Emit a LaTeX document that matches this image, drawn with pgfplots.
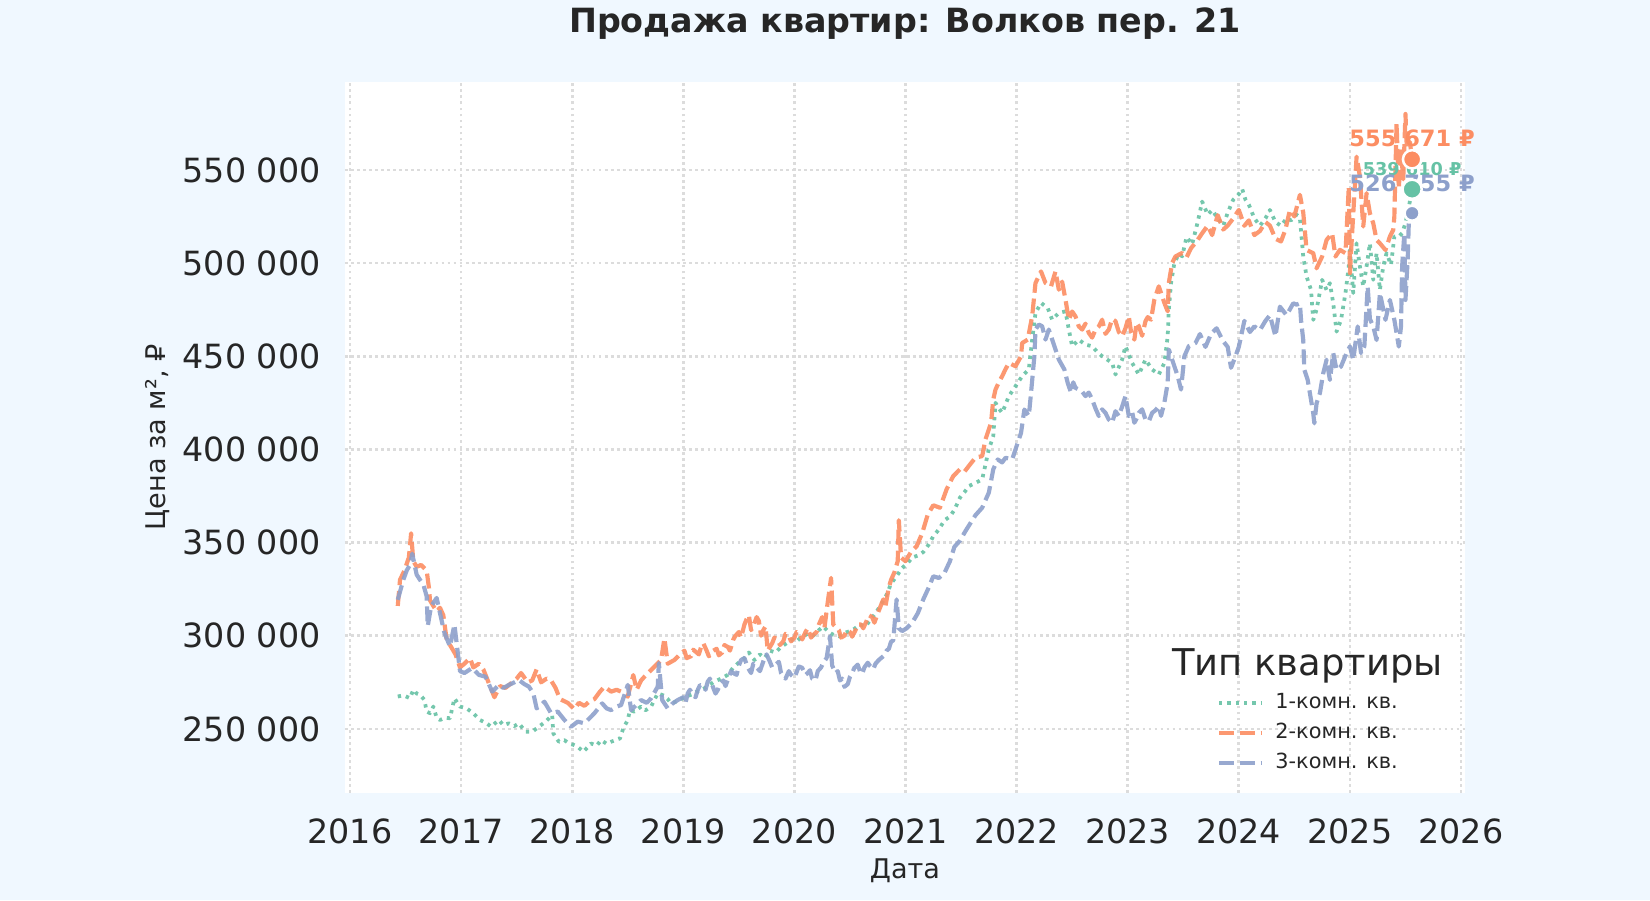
\documentclass[border=0pt]{standalone}
\usepackage{fontspec}
\setmainfont{DejaVu Sans}
\usepackage{pgfplots}
\usepackage{pgfplotstable}
\pgfplotsset{compat=1.18}
\definecolor{bgc}{HTML}{F0F8FF}
\definecolor{c1}{HTML}{66C2A5}
\definecolor{c2}{HTML}{FC8D62}
\definecolor{c3}{HTML}{8DA0CB}
\definecolor{txt}{HTML}{262626}
\definecolor{gridc}{HTML}{DCDCDC}

\pgfplotstableread{
x y
2016.43 267400
2016.48 268000
2016.54 266500
2016.57 271000
2016.60 269000
2016.63 268300
2016.67 265600
2016.69 259300
2016.72 258400
2016.75 262000
2016.78 256000
2016.81 254800
2016.86 256000
2016.90 255700
2016.94 266400
2016.99 262000
2017.05 261000
2017.11 258400
2017.17 254800
2017.23 253000
2017.27 251200
2017.34 254800
2017.38 252000
2017.43 253000
2017.48 251500
2017.52 253000
2017.58 248500
2017.64 248500
2017.70 251200
2017.76 253900
2017.82 257500
2017.83 247600
2017.88 243100
2017.93 244000
2017.97 242200
2018.01 241500
2018.05 240400
2018.10 237700
2018.17 242200
2018.22 241000
2018.26 244000
2018.31 242000
2018.35 243100
2018.43 244900
2018.46 250300
2018.50 254800
2018.52 260100
2018.56 259300
2018.62 262000
2018.66 260000
2018.71 262000
2018.77 269100
2018.82 268000
2018.86 266000
2018.89 263700
2018.95 265000
2019.02 267300
2019.08 268500
2019.12 270000
2019.17 271000
2019.22 273000
2019.28 275400
2019.34 277000
2019.40 279000
2019.45 283000
2019.50 285600
2019.55 288000
2019.59 291000
2019.64 287000
2019.69 290000
2019.73 288000
2019.78 292000
2019.83 291000
2019.88 294000
2019.93 296000
2019.98 298000
2020.02 297000
2020.07 299700
2020.12 301000
2020.17 300000
2020.22 303000
2020.26 305000
2020.31 302000
2020.35 300500
2020.40 299700
2020.45 301500
2020.50 302500
2020.54 303700
2020.59 306000
2020.64 305000
2020.68 308200
2020.73 312000
2020.78 316700
2020.83 322000
2020.87 328000
2020.92 332000
2020.97 336400
2021.02 339000
2021.06 342000
2021.11 343000
2021.16 344900
2021.21 349000
2021.25 353400
2021.30 357000
2021.35 361900
2021.40 364000
2021.44 367500
2021.49 374100
2021.53 377000
2021.57 380300
2021.63 382000
2021.69 383900
2021.75 400000
2021.79 407100
2021.81 425000
2021.84 422000
2021.87 419600
2021.90 424000
2021.93 428600
2021.99 433900
2022.05 439300
2022.11 442900
2022.14 458900
2022.17 473200
2022.22 478600
2022.28 475900
2022.32 469600
2022.38 473200
2022.44 474100
2022.47 464300
2022.50 455400
2022.56 458900
2022.62 456200
2022.68 455400
2022.73 452000
2022.77 450000
2022.82 448000
2022.86 446400
2022.89 440200
2022.95 448200
2022.98 455400
2023.04 446400
2023.10 440200
2023.16 448200
2023.22 442900
2023.28 440200
2023.33 446400
2023.36 460700
2023.37 475000
2023.39 489300
2023.42 500000
2023.46 505000
2023.49 503600
2023.53 514000
2023.58 510000
2023.63 522000
2023.67 533000
2023.72 526000
2023.76 528500
2023.81 524000
2023.86 520000
2023.90 527000
2023.95 534000
2024.00 537000
2024.03 539800
2024.06 534000
2024.09 531400
2024.14 524000
2024.19 520000
2024.24 524000
2024.28 528500
2024.33 522000
2024.38 520000
2024.43 524000
2024.47 522900
2024.52 526000
2024.55 524000
2024.58 503500
2024.61 492800
2024.65 485600
2024.67 469500
2024.70 475000
2024.75 491000
2024.79 485600
2024.82 489200
2024.85 478400
2024.88 463200
2024.92 469500
2024.96 483900
2024.99 498200
2025.00 507100
2025.03 483900
2025.06 510600
2025.09 498200
2025.12 487400
2025.15 498200
2025.18 510600
2025.21 491000
2025.24 505300
2025.27 485600
2025.30 498200
2025.33 505300
2025.37 499000
2025.40 514200
2025.44 514200
2025.47 516000
2025.50 521400
2025.53 530000
2025.56 539610
}\tabA

\pgfplotstableread{
x y
2016.43 316000
2016.45 330000
2016.49 335000
2016.53 342000
2016.55 355000
2016.57 340000
2016.60 337000
2016.64 338000
2016.69 335000
2016.71 326000
2016.72 319000
2016.75 316000
2016.78 313000
2016.81 315000
2016.84 311000
2016.87 298000
2016.91 294000
2016.95 290000
2016.99 283000
2017.03 285000
2017.08 288000
2017.11 283000
2017.16 285000
2017.20 282000
2017.26 273000
2017.30 267000
2017.35 273000
2017.40 272000
2017.46 275000
2017.50 277000
2017.54 280000
2017.60 275000
2017.64 276000
2017.68 282000
2017.72 275000
2017.77 277000
2017.81 276000
2017.85 272000
2017.89 266000
2017.96 264000
2018.02 260600
2018.06 264000
2018.11 262400
2018.16 265000
2018.20 266000
2018.25 270000
2018.29 272700
2018.35 270000
2018.40 271000
2018.44 270000
2018.50 267300
2018.55 278900
2018.58 271000
2018.62 276000
2018.65 278000
2018.70 281000
2018.74 283400
2018.80 287000
2018.83 298600
2018.86 285000
2018.92 287000
2018.97 290000
2019.01 292000
2019.03 288000
2019.07 289000
2019.09 292500
2019.12 291000
2019.14 290000
2019.16 294000
2019.18 296000
2019.21 292000
2019.23 289000
2019.25 290000
2019.27 292000
2019.30 293000
2019.32 289500
2019.35 291000
2019.37 295000
2019.40 294000
2019.42 292000
2019.45 298000
2019.47 300000
2019.50 302000
2019.52 299000
2019.55 306000
2019.57 309000
2019.59 311000
2019.61 303000
2019.63 305000
2019.66 310000
2019.68 308000
2019.70 300000
2019.72 303000
2019.74 305000
2019.76 292000
2019.78 294000
2019.80 296000
2019.82 299000
2019.85 298000
2019.87 295000
2019.90 297000
2019.92 301000
2019.95 300000
2019.97 297000
2020.00 299000
2020.02 302000
2020.05 301000
2020.07 298000
2020.10 302000
2020.12 304000
2020.15 299000
2020.17 300500
2020.20 302000
2020.22 306000
2020.25 310000
2020.27 304000
2020.30 318000
2020.33 331000
2020.35 306000
2020.40 303000
2020.42 299000
2020.45 300000
2020.47 303000
2020.50 302000
2020.52 299500
2020.55 303000
2020.57 306000
2020.60 306000
2020.62 304000
2020.65 308000
2020.67 311000
2020.70 310000
2020.72 307000
2020.75 312000
2020.77 315000
2020.80 319500
2020.82 316000
2020.85 326000
2020.87 330000
2020.90 334000
2020.93 340000
2020.94 362000
2020.96 342000
2021.00 340000
2021.05 345000
2021.10 348000
2021.15 355000
2021.20 365000
2021.25 370000
2021.31 368700
2021.37 378600
2021.43 385700
2021.49 389300
2021.53 388000
2021.57 391100
2021.63 395600
2021.69 396400
2021.72 405400
2021.77 414300
2021.79 426800
2021.81 432100
2021.84 436000
2021.87 439300
2021.90 443000
2021.93 446400
2021.99 444600
2022.04 450000
2022.05 457100
2022.10 458900
2022.14 471400
2022.17 489300
2022.22 495500
2022.26 489300
2022.31 487500
2022.35 495500
2022.38 485700
2022.41 490000
2022.44 480400
2022.47 469600
2022.50 474000
2022.53 471400
2022.56 466000
2022.59 464300
2022.62 467500
2022.65 462500
2022.68 460000
2022.71 464300
2022.74 466000
2022.77 469600
2022.80 462000
2022.83 464300
2022.86 470000
2022.89 468800
2022.92 463000
2022.95 460700
2022.98 465000
2023.01 471400
2023.03 463000
2023.06 458900
2023.08 468000
2023.10 466100
2023.13 461000
2023.16 468800
2023.18 471000
2023.21 469600
2023.24 480400
2023.28 487500
2023.33 478600
2023.36 474100
2023.37 489300
2023.40 500000
2023.43 503600
2023.49 505400
2023.53 503100
2023.57 508000
2023.62 511600
2023.67 516000
2023.72 520100
2023.76 515000
2023.81 525700
2023.86 518000
2023.90 520100
2023.95 524000
2024.00 528500
2024.05 520000
2024.09 522900
2024.14 515000
2024.19 517200
2024.24 522000
2024.28 520100
2024.33 513000
2024.38 511600
2024.42 518000
2024.46 528500
2024.50 525000
2024.55 536600
2024.58 527100
2024.61 507000
2024.67 505300
2024.70 497200
2024.75 503500
2024.79 512400
2024.84 516000
2024.87 503500
2024.91 507100
2024.96 505300
2024.99 541000
2025.00 494600
2025.02 516000
2025.06 557100
2025.09 546400
2025.12 519600
2025.15 537500
2025.18 526700
2025.21 521400
2025.24 512400
2025.27 510600
2025.32 507000
2025.36 514200
2025.39 517800
2025.40 525000
2025.42 575000
2025.44 540000
2025.46 560000
2025.48 545000
2025.50 580000
2025.52 550000
2025.54 565000
2025.56 555671
}\tabB

\pgfplotstableread{
x y
2016.43 319300
2016.48 330000
2016.51 335000
2016.54 338000
2016.56 344000
2016.60 332800
2016.63 330000
2016.66 327500
2016.69 321200
2016.70 305200
2016.73 315800
2016.78 320300
2016.81 312200
2016.85 301500
2016.90 294300
2016.94 306000
2016.99 281000
2017.03 280000
2017.10 282700
2017.16 279000
2017.22 278000
2017.28 270000
2017.34 273600
2017.38 272000
2017.43 273600
2017.48 275000
2017.52 276300
2017.57 274000
2017.61 272700
2017.65 269100
2017.68 261000
2017.72 263000
2017.75 264600
2017.81 258400
2017.87 259300
2017.93 254800
2017.99 251200
2018.05 253900
2018.11 253000
2018.16 256000
2018.20 258400
2018.27 263700
2018.31 261000
2018.35 260100
2018.40 262000
2018.44 262800
2018.50 273600
2018.53 260100
2018.58 263000
2018.62 265500
2018.67 264000
2018.71 266400
2018.77 272700
2018.78 285300
2018.81 265500
2018.86 261000
2018.90 263500
2018.95 265500
2019.00 267000
2019.02 264000
2019.04 269100
2019.06 271000
2019.09 268000
2019.11 267000
2019.13 270900
2019.15 273500
2019.18 273000
2019.20 271000
2019.22 275400
2019.24 277000
2019.27 272000
2019.29 269000
2019.31 270900
2019.33 274000
2019.36 276000
2019.38 273000
2019.41 278000
2019.43 281000
2019.45 280000
2019.48 279000
2019.50 284000
2019.52 287000
2019.55 288000
2019.58 283000
2019.61 280000
2019.63 285000
2019.66 283000
2019.69 281000
2019.73 288000
2019.75 290000
2019.78 286000
2019.80 283000
2019.83 284500
2019.86 286000
2019.88 280000
2019.90 278500
2019.92 277000
2019.95 281000
2019.97 279000
2020.00 277500
2020.02 280500
2020.04 283500
2020.07 282800
2020.10 279000
2020.12 280000
2020.14 281500
2020.16 277000
2020.19 276000
2020.21 281000
2020.24 283000
2020.26 285600
2020.29 288000
2020.32 299700
2020.34 284000
2020.37 280000
2020.39 281000
2020.41 276000
2020.43 277000
2020.45 272600
2020.48 274000
2020.50 278000
2020.52 280000
2020.54 282800
2020.57 284500
2020.59 281000
2020.61 279500
2020.63 283000
2020.66 285500
2020.68 283900
2020.71 282000
2020.73 285000
2020.76 287000
2020.78 288000
2020.81 289500
2020.83 292000
2020.85 293000
2020.87 296800
2020.89 297500
2020.92 319500
2020.94 304000
2020.97 302500
2021.01 304000
2021.06 307000
2021.11 312000
2021.16 319500
2021.21 326000
2021.25 331900
2021.30 331000
2021.35 333600
2021.40 340000
2021.44 347700
2021.49 351000
2021.54 356200
2021.58 360000
2021.63 364700
2021.69 368700
2021.75 376800
2021.79 389300
2021.83 394600
2021.87 393000
2021.90 395500
2021.96 394600
2022.01 403600
2022.04 408900
2022.07 421400
2022.11 417900
2022.13 430400
2022.16 450000
2022.17 464300
2022.20 467000
2022.23 466100
2022.26 458900
2022.29 464300
2022.34 455400
2022.38 448200
2022.43 442900
2022.46 435700
2022.49 430400
2022.51 436000
2022.53 433000
2022.56 432100
2022.59 431000
2022.62 428600
2022.65 430500
2022.68 426800
2022.71 422000
2022.74 417900
2022.77 421500
2022.80 419600
2022.83 416000
2022.86 414300
2022.89 420500
2022.92 417900
2022.95 423000
2022.98 428600
2023.01 417900
2023.04 420000
2023.06 414300
2023.08 416500
2023.10 419600
2023.13 421500
2023.16 416100
2023.19 415000
2023.22 419600
2023.25 421000
2023.28 423200
2023.30 418000
2023.33 425000
2023.36 435700
2023.37 453600
2023.40 448200
2023.45 439300
2023.48 432100
2023.51 450000
2023.55 455400
2023.61 457100
2023.65 461900
2023.70 455000
2023.75 462000
2023.80 465000
2023.86 458000
2023.90 455000
2023.93 443800
2023.97 450000
2024.00 455000
2024.05 469000
2024.10 463000
2024.14 466000
2024.19 464000
2024.24 469000
2024.28 472000
2024.33 460700
2024.37 476600
2024.43 472000
2024.49 478400
2024.52 477700
2024.55 478400
2024.56 469500
2024.58 458700
2024.59 442700
2024.62 437300
2024.65 426600
2024.67 419400
2024.68 414000
2024.70 424800
2024.73 430200
2024.76 440900
2024.79 448100
2024.82 437300
2024.85 451700
2024.88 442700
2024.92 444500
2024.97 451700
2025.00 455300
2025.03 448100
2025.07 466000
2025.10 451700
2025.13 455300
2025.16 487400
2025.18 470000
2025.21 466000
2025.24 458700
2025.27 483900
2025.32 469500
2025.36 480200
2025.40 469500
2025.44 455200
2025.46 466000
2025.47 498200
2025.49 516000
2025.50 480200
2025.52 501800
2025.53 521400
2025.56 526755
}\tabC

\begin{document}
\begin{tikzpicture}
\fill[bgc] (-165.6pt,-51.4pt) rectangle (626.4pt,380.6pt);
\begin{axis}[
  at={(0pt,0pt)}, anchor=south west,
  width=537.6pt, height=341.3pt, scale only axis,
  xmin=2015.955, xmax=2026.036, ymin=215650, ymax=597230,
  clip=false,
  scaled y ticks=false, scaled x ticks=false,
  axis background/.style={fill=white},
  axis line style={draw=none},
  major tick style={draw=none},
  xtick={2016,2017,2018,2019,2020,2021,2022,2023,2024,2025,2026},
  xticklabels={2016,2017,2018,2019,2020,2021,2022,2023,2024,2025,2026},
  ytick={250000,300000,350000,400000,450000,500000,550000},
  yticklabels={250 000,300 000,350 000,400 000,450 000,500 000,550 000},
  grid=major,
  major grid style={gridc, line width=1.3pt, dash pattern=on 1.3pt off 1.6pt},
  ticklabel style={font=\fontsize{16}{19}\selectfont, text=txt, inner sep=0pt},
  xticklabel style={anchor=base, yshift=-24.5pt},
  yticklabel style={anchor=east, xshift=-11.5pt},
  title={Продажа квартир: Волков пер. 21},
  title style={at={(axis description cs:0.5,1.0518)}, anchor=base, yshift=0pt, font=\bfseries\fontsize{16}{19}\selectfont, text=txt, inner sep=0pt},
  xlabel={Дата},
  xlabel style={at={(axis description cs:0.5,-0.121)}, anchor=base, font=\fontsize{13}{15}\selectfont, text=txt, inner sep=0pt},
  ylabel={Цена за м², ₽},
  ylabel style={at={(axis description cs:-0.1607,0.5)}, anchor=base, font=\fontsize{13}{15}\selectfont, text=txt, inner sep=0pt},
  legend image code/.code={\draw[#1] (0pt,0pt) -- (20.3pt,0pt);},
  legend cell align=left,
  legend style={at={(axis description cs:0.7785,0.1406)}, anchor=north west,
    draw=none, fill=none, inner sep=0pt, outer sep=0pt,
    font=\fontsize{10}{12}\selectfont, text=txt,
    row sep=5.1pt, column sep=5.8pt,
    nodes={inner sep=0pt, text height=7.3pt, text depth=2pt}},
]
\addplot[c1, line width=1.8pt, dash pattern=on 1.6pt off 2.4pt, opacity=0.9, line join=round] table {\tabA};
\addlegendentry{1-комн. кв.}
\addplot[c2, line width=2pt, dash pattern=on 7.2pt off 2.8pt, opacity=0.9, line join=round] table {\tabB};
\addlegendentry{2-комн. кв.}
\addplot[c3, line width=2pt, dash pattern=on 7.2pt off 2.8pt, opacity=0.9, line join=round] table {\tabC};
\addlegendentry{3-комн. кв.}

\node[font=\bfseries\fontsize{10.8}{12}\selectfont, text=c2, inner sep=0pt] at (axis cs:2025.56,567000) {555 671 ₽};
\node[font=\bfseries\fontsize{8.5}{10}\selectfont, text=c1, inner sep=0pt] at (axis cs:2025.56,550200) {539 610 ₽};
\node[font=\bfseries\fontsize{10.8}{12}\selectfont, text=c3, inner sep=0pt] at (axis cs:2025.56,542900) {526 755 ₽};

\addplot[forget plot, only marks, mark=*, mark size=4.4pt, mark options={fill=c2, draw=white, line width=1.2pt}] coordinates {(2025.56,555671)};
\addplot[forget plot, only marks, mark=*, mark size=4.6pt, mark options={fill=c1, draw=white, line width=1.2pt}] coordinates {(2025.56,539610)};
\addplot[forget plot, only marks, mark=*, mark size=3.6pt, mark options={fill=c3, draw=white, line width=1.2pt}] coordinates {(2025.56,526755)};
\end{axis}
\node[font=\fontsize{17.7}{21}\selectfont, text=txt, inner sep=0pt, anchor=base] at (462pt,56.6pt) {Тип квартиры};
\pgfresetboundingbox
\useasboundingbox (-165.6pt,-51.4pt) rectangle (626.4pt,380.6pt);
\end{tikzpicture}
\end{document}
